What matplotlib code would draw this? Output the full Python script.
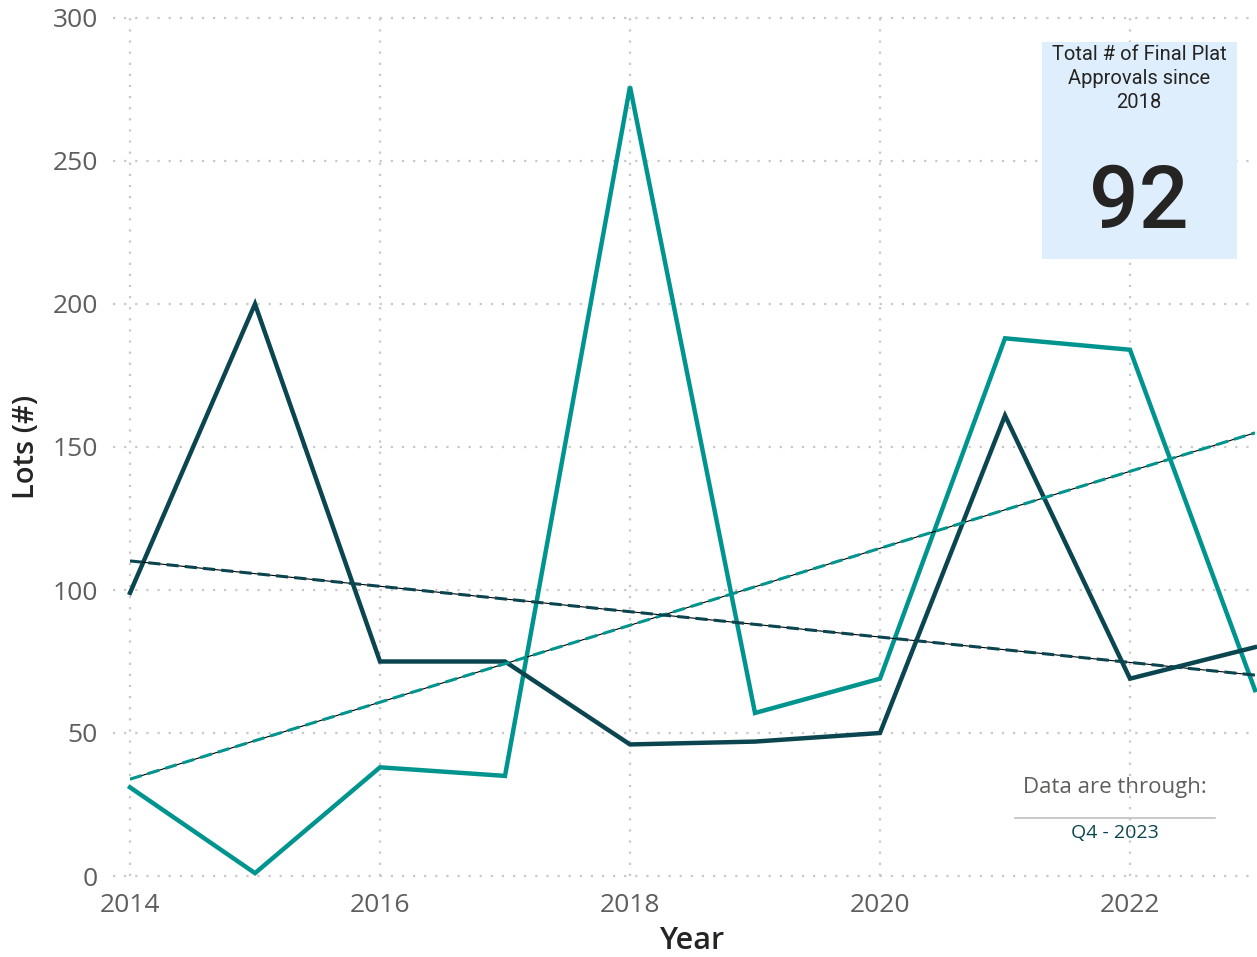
import matplotlib
matplotlib.use("Agg")
import matplotlib.pyplot as plt
import numpy as np

years = [2014, 2015, 2016, 2017, 2018, 2019, 2020, 2021, 2022, 2023]
series_dark = [99, 200, 75, 75, 46, 47, 50, 161, 69, 80]
series_teal = [31, 1, 38, 35, 276, 57, 69, 188, 184, 65]
x_ticks = [2014, 2016, 2018, 2020, 2022]
y_ticks = [0, 50, 100, 150, 200, 250, 300]
card_title = "Total # of Final Plat\nApprovals since\n2018"
card_value = "92"
through_label = "Data are through:"
through_value = "Q4 - 2023"

DARK = "#0B4650"
TEAL = "#00948F"
GRID = "#C8C8C8"
TICK = "#605E5C"

plt.rcParams['font.family'] = ['Open Sans', 'DejaVu Sans']

fig = plt.figure(figsize=(12.57, 9.57), dpi=100)
ax = fig.add_axes([130/1257, 81/957, 1125/1257, 858/957])
ax.set_xlim(2014, 2023)
ax.set_ylim(0, 300)

# grid
for yv in y_ticks:
    ax.plot([2013.864, 2023.02], [yv, yv], color=GRID, lw=1.6,
            linestyle=(0, (1, 4)), clip_on=False, zorder=1)
for xv in x_ticks:
    ax.plot([xv, xv], [0, 300], color=GRID, lw=1.6,
            linestyle=(0, (1, 4)), clip_on=False, zorder=1)

ax.plot(years, series_teal, color=TEAL, lw=3.2, zorder=3, solid_joinstyle='miter', clip_on=False)
ax.plot(years, series_dark, color=DARK, lw=3.2, zorder=3, solid_joinstyle='miter', clip_on=False)

xs = np.array(years, dtype=float)
for ser, col in ((series_teal, TEAL), (series_dark, DARK)):
    k, b = np.polyfit(xs, np.array(ser, dtype=float), 1)
    yy = k * xs + b
    ax.plot(xs, yy, color="black", lw=0.8, zorder=4)
    ax.plot(xs, yy, color=col, lw=2.2, linestyle=(0, (4, 2)), zorder=5)

for s in ax.spines.values():
    s.set_visible(False)
ax.set_xticks(x_ticks)
ax.set_xticklabels([str(v) for v in x_ticks])
ax.set_yticks(y_ticks)
ax.set_yticklabels([str(v) for v in y_ticks])
ax.tick_params(axis='both', length=0, labelsize=19, labelcolor=TICK)
ax.tick_params(axis='y', pad=23)
ax.tick_params(axis='x', pad=12)

ax.set_xlabel("Year", fontsize=22, color="#252423", fontweight='semibold')
ax.xaxis.set_label_coords(0.5, -(926 - 876) / 858)
ax.set_ylabel("Lots (#)", fontsize=21, color="#252423", fontweight='semibold')
ax.yaxis.set_label_coords((41 - 130) / 1125, 0.5)

# card
card = plt.Rectangle((1042/1257, (957-259)/957), 195/1257, 217/957,
                     transform=fig.transFigure, facecolor="#DEEEFD", edgecolor='none', zorder=10)
fig.patches.append(card)
fig.text(1139/1257, (957-45)/957, card_title, ha='center', va='top', fontsize=14.5,
         color="#252423", family=['Roboto', 'DejaVu Sans'], fontweight='normal',
         linespacing=1.32, zorder=11)
fig.text(1139/1257, (957-204)/957, card_value, ha='center', va='center', fontsize=63,
         color="#252423", family=['Roboto', 'DejaVu Sans'], fontweight='medium', zorder=11)

# data-through note
fig.text(1115/1257, (957-788)/957, through_label, ha='center', va='center', fontsize=16,
         color=TICK, zorder=11)
fig.add_artist(plt.Line2D([1015/1257, 1215/1257], [(957-818)/957]*2,
                          transform=fig.transFigure, color="#C0C0C0", lw=1.2))
fig.text(1115/1257, (957-833)/957, through_value, ha='center', va='center', fontsize=14,
         color=DARK, zorder=11)

fig.savefig("out.png", dpi=100)
